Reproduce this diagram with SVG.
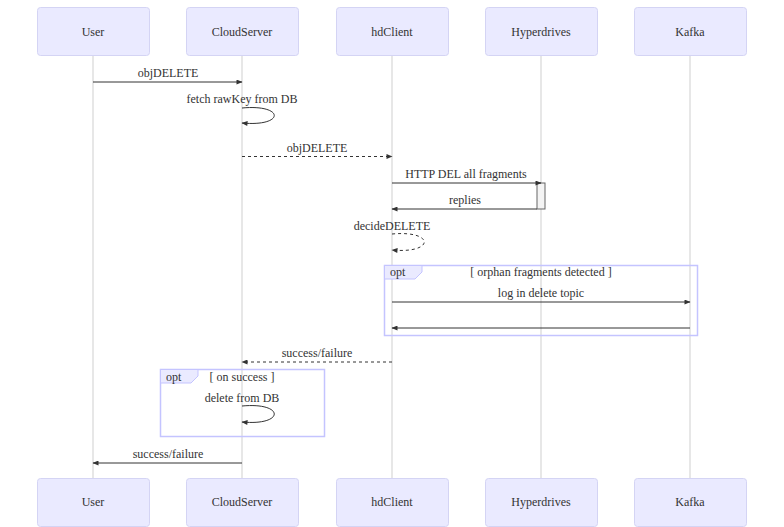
<svg xmlns="http://www.w3.org/2000/svg" width="784" height="527" viewBox="0 0 784 527" font-family="'Liberation Serif', 'DejaVu Serif', serif" font-size="12">
<style>
text{font-family:'Liberation Serif','DejaVu Serif',serif;font-size:12px;fill:#333;}
.actor rect{fill:#eaeaff;stroke:#d4d4f4;stroke-width:1;}
.actor text{text-anchor:middle;dominant-baseline:central;}
.life{stroke:#cfcfcf;stroke-width:1;}
.msg{stroke:#333;stroke-width:1;fill:none;}
.dash{stroke-dasharray:3,3;}
.lbl{text-anchor:middle;}
.frame{fill:none;stroke:#c4c4ff;stroke-width:1.5;}
.tab{fill:#eaeaff;stroke:#c4c4ff;stroke-width:1;}
</style>
<defs>
<marker id="arr" viewBox="0 0 12 10" refX="11" refY="5" markerWidth="7" markerHeight="5" orient="auto-start-reverse" markerUnits="userSpaceOnUse"><path d="M0,0 L12,5 L0,10 z" fill="#333"/></marker>
</defs>
<rect width="784" height="527" fill="#fff"/>
<g id="lifelines">
<line class="life" x1="93" y1="55" x2="93" y2="478"/>
<line class="life" x1="242" y1="55" x2="242" y2="478"/>
<line class="life" x1="392" y1="55" x2="392" y2="478"/>
<line class="life" x1="541" y1="55" x2="541" y2="478"/>
<line class="life" x1="690" y1="55" x2="690" y2="478"/>
</g>
<g id="actor-User" class="actor"><rect x="37.5" y="7.5" width="112" height="48" rx="3"/><text x="93" y="32">User</text></g>
<g id="actor-CloudServer" class="actor"><rect x="186.5" y="7.5" width="112" height="48" rx="3"/><text x="242" y="32">CloudServer</text></g>
<g id="actor-hdClient" class="actor"><rect x="336.5" y="7.5" width="112" height="48" rx="3"/><text x="392" y="32">hdClient</text></g>
<g id="actor-Hyperdrives" class="actor"><rect x="485.5" y="7.5" width="112" height="48" rx="3"/><text x="541" y="32">Hyperdrives</text></g>
<g id="actor-Kafka" class="actor"><rect x="634.5" y="7.5" width="112" height="48" rx="3"/><text x="690" y="32">Kafka</text></g>
<g id="actor-User-bottom" class="actor"><rect x="37.5" y="478.5" width="112" height="48" rx="3"/><text x="93" y="502">User</text></g>
<g id="actor-CloudServer-bottom" class="actor"><rect x="186.5" y="478.5" width="112" height="48" rx="3"/><text x="242" y="502">CloudServer</text></g>
<g id="actor-hdClient-bottom" class="actor"><rect x="336.5" y="478.5" width="112" height="48" rx="3"/><text x="392" y="502">hdClient</text></g>
<g id="actor-Hyperdrives-bottom" class="actor"><rect x="485.5" y="478.5" width="112" height="48" rx="3"/><text x="541" y="502">Hyperdrives</text></g>
<g id="actor-Kafka-bottom" class="actor"><rect x="634.5" y="478.5" width="112" height="48" rx="3"/><text x="690" y="502">Kafka</text></g>
<g id="frame-orphan">
<rect class="frame" x="384.5" y="265.5" width="313" height="70"/>
<polygon class="tab" points="384.5,265.5 422,265.5 422,272 415,279 384.5,279"/>
<text x="390" y="276">opt</text>
<text class="lbl" x="541" y="276">[ orphan fragments detected ]</text>
</g>
<g id="frame-success">
<rect class="frame" x="160.5" y="369.5" width="164" height="67"/>
<polygon class="tab" points="160.5,369.5 198,369.5 198,376 191,383 160.5,383"/>
<text x="166" y="381">opt</text>
<text class="lbl" x="242" y="381">[ on success ]</text>
</g>
<g id="activation"><rect x="537" y="183" width="8" height="26" fill="#f4f4f4" stroke="#666" stroke-width="1"/></g>
<g id="connectors">
<line class="msg" x1="93" y1="82" x2="242" y2="82" marker-end="url(#arr)"/>
<path class="msg" d="M242,108 C285,104 285,127 242,123" marker-end="url(#arr)"/>
<line class="msg dash" x1="242" y1="156.5" x2="392" y2="156.5" marker-end="url(#arr)"/>
<line class="msg" x1="392" y1="183" x2="541" y2="183" marker-end="url(#arr)"/>
<line class="msg" x1="537" y1="209" x2="392" y2="209" marker-end="url(#arr)"/>
<path class="msg dash" d="M392,234 C435,230 435,254 392,250" marker-end="url(#arr)"/>
<line class="msg" x1="392" y1="302" x2="690" y2="302" marker-end="url(#arr)"/>
<line class="msg" x1="690" y1="328" x2="392" y2="328" marker-end="url(#arr)"/>
<line class="msg dash" x1="392" y1="362" x2="242" y2="362" marker-end="url(#arr)"/>
<path class="msg" d="M242,406 C285,402 285,426 242,422" marker-end="url(#arr)"/>
<line class="msg" x1="242" y1="463" x2="93" y2="463" marker-end="url(#arr)"/>
</g>
<g id="labels">
<text class="lbl" x="168" y="77">objDELETE</text>
<text class="lbl" x="242" y="103">fetch rawKey from DB</text>
<text class="lbl" x="317" y="152">objDELETE</text>
<text class="lbl" x="466" y="178">HTTP DEL all fragments</text>
<text class="lbl" x="465" y="204">replies</text>
<text class="lbl" x="392" y="230">decideDELETE</text>
<text class="lbl" x="541" y="297">log in delete topic</text>
<text class="lbl" x="317" y="357">success/failure</text>
<text class="lbl" x="242" y="402">delete from DB</text>
<text class="lbl" x="168" y="458">success/failure</text>
</g>
</svg>
